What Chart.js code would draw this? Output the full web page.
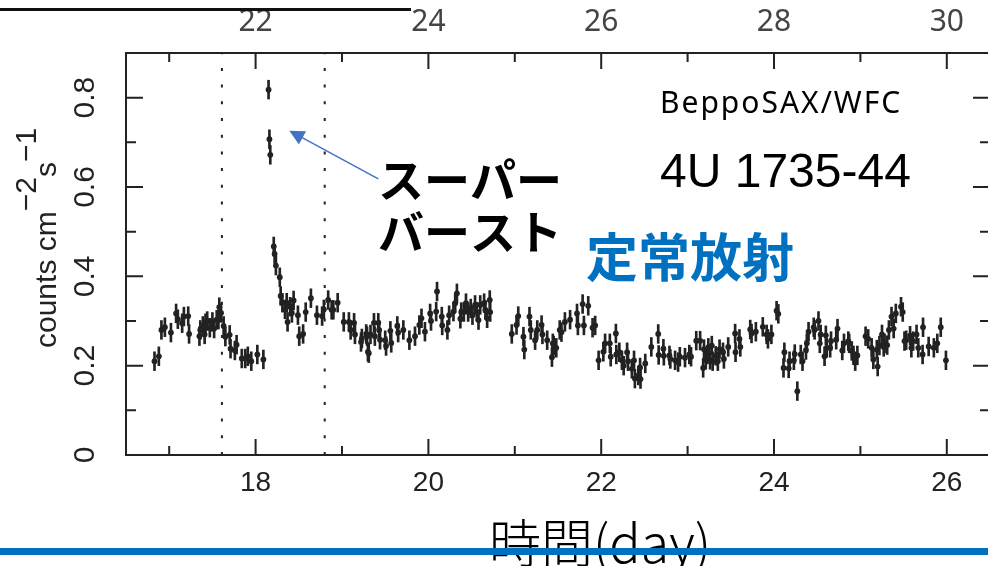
<!DOCTYPE html>
<html>
<head>
<meta charset="utf-8">
<script src="https://cdn.jsdelivr.net/npm/chart.js@4.4.1/dist/chart.umd.min.js"></script>
<style>
  html, body { margin: 0; padding: 0; background: #fff; overflow: hidden; }
  #wrap { position: relative; width: 1000px; height: 566px; }
</style>
</head>
<body>
<div id="wrap"><canvas id="lc" width="1000" height="566"></canvas></div>
<script>
// light curve (day, counts cm^-2 s^-1)
const days = [
  16.83, 16.88, 16.91, 16.95, 17.02, 17.08, 17.10, 17.15, 17.17, 17.22, 17.23,
  17.35, 17.36, 17.39, 17.41, 17.42, 17.44, 17.47, 17.50, 17.52, 17.55, 17.57,
  17.58, 17.60, 17.63, 17.65, 17.70, 17.71, 17.76, 17.78, 17.84, 17.88, 17.91,
  17.95, 18.02, 18.09,
  18.15, 18.16, 18.17, 18.21, 18.22, 18.235, 18.28, 18.29, 18.31, 18.34, 18.36,
  18.37, 18.40, 18.42, 18.44, 18.49, 18.505, 18.55, 18.58, 18.64, 18.71, 18.77,
  18.79, 18.84, 18.88, 18.90, 18.95, 19.02, 19.08, 19.10, 19.14, 19.15, 19.22,
  19.23, 19.28, 19.29, 19.30, 19.31, 19.33, 19.37, 19.38, 19.42, 19.43, 19.44,
  19.50, 19.51, 19.56, 19.57, 19.64, 19.65, 19.71, 19.78, 19.845, 19.895, 19.92,
  19.96, 20.02, 20.03, 20.09, 20.10, 20.155, 20.16, 20.22, 20.24, 20.29, 20.31,
  20.33, 20.37, 20.38, 20.41, 20.435, 20.46, 20.49, 20.51, 20.54, 20.56, 20.58,
  20.60, 20.645, 20.66, 20.68, 20.71, 20.715,
  20.965, 21.02, 21.04, 21.10, 21.11, 21.17, 21.185, 21.235, 21.26, 21.31, 21.32,
  21.375, 21.43, 21.44, 21.45, 21.48, 21.52, 21.54, 21.58, 21.64, 21.72, 21.73,
  21.785, 21.80, 21.85, 21.90, 21.93, 21.97, 22.025, 22.045, 22.10, 22.11, 22.17,
  22.175, 22.21, 22.24, 22.26, 22.30, 22.31, 22.355, 22.38, 22.39, 22.43, 22.45,
  22.455, 22.51, 22.58, 22.66, 22.665, 22.72, 22.725, 22.79, 22.80, 22.855, 22.89,
  22.91, 22.97, 23.02, 23.04, 23.10, 23.145, 23.18, 23.19, 23.21, 23.23, 23.24,
  23.26, 23.28, 23.29, 23.325, 23.35, 23.37, 23.41, 23.42, 23.47, 23.55, 23.555,
  23.60, 23.61, 23.725, 23.74, 23.79, 23.87, 23.915, 23.93, 23.97, 24.03, 24.05,
  24.11, 24.12, 24.17, 24.18, 24.23, 24.24, 24.27, 24.31, 24.33, 24.37, 24.38,
  24.40, 24.46, 24.47, 24.515, 24.53, 24.54, 24.585, 24.60, 24.61, 24.65, 24.66,
  24.72, 24.735, 24.79, 24.81, 24.86, 24.87, 24.90, 24.92, 24.94, 24.965, 25.06,
  25.09, 25.13, 25.15, 25.19, 25.20, 25.22, 25.25, 25.27, 25.28, 25.31, 25.33,
  25.36, 25.385, 25.41, 25.47, 25.49, 25.51, 25.53, 25.575, 25.59, 25.61, 25.65,
  25.67, 25.72, 25.725, 25.79, 25.85, 25.89, 25.93, 25.99
];
const flux = [
  0.210, 0.221, 0.280, 0.286, 0.274, 0.317, 0.304, 0.295, 0.310, 0.311, 0.271,
  0.266, 0.280, 0.289, 0.270, 0.295, 0.300, 0.285, 0.298, 0.283, 0.303, 0.303,
  0.331, 0.318, 0.289, 0.265, 0.269, 0.238, 0.234, 0.247, 0.216, 0.216, 0.221,
  0.210, 0.225, 0.214,
  0.818, 0.707, 0.672, 0.467, 0.450, 0.424, 0.398, 0.356, 0.341, 0.326, 0.341,
  0.298, 0.332, 0.318, 0.346, 0.313, 0.266, 0.271, 0.320, 0.351, 0.313, 0.311,
  0.326, 0.347, 0.325, 0.325, 0.341, 0.298, 0.298, 0.280, 0.296, 0.270, 0.253,
  0.261, 0.271, 0.266, 0.231, 0.228, 0.270, 0.296, 0.266, 0.296, 0.280, 0.258,
  0.257, 0.244, 0.278, 0.251, 0.289, 0.274, 0.280, 0.257, 0.266, 0.291, 0.306,
  0.276, 0.317, 0.300, 0.321, 0.366, 0.310, 0.290, 0.280, 0.313, 0.321, 0.340,
  0.362, 0.305, 0.320, 0.320, 0.340, 0.320, 0.328, 0.313, 0.336, 0.321, 0.302,
  0.336, 0.340, 0.325, 0.306, 0.347, 0.320,
  0.271, 0.291, 0.311, 0.265, 0.236, 0.310, 0.280, 0.257, 0.280, 0.291, 0.270,
  0.257, 0.219, 0.250, 0.245, 0.240, 0.280, 0.275, 0.298, 0.303, 0.317, 0.290,
  0.338, 0.290, 0.334, 0.285, 0.290, 0.212, 0.231, 0.250, 0.250, 0.220, 0.272,
  0.225, 0.230, 0.212, 0.200, 0.230, 0.210, 0.193, 0.212, 0.171, 0.178, 0.196,
  0.170, 0.205, 0.242, 0.271, 0.224, 0.238, 0.222, 0.223, 0.215, 0.212, 0.208,
  0.220, 0.218, 0.225, 0.220, 0.256, 0.256, 0.195, 0.237, 0.213, 0.225, 0.240,
  0.213, 0.245, 0.210, 0.222, 0.210, 0.237, 0.230, 0.215, 0.242, 0.272, 0.230,
  0.260, 0.242, 0.281, 0.272, 0.276, 0.287, 0.270, 0.260, 0.270, 0.323, 0.316,
  0.195, 0.230, 0.194, 0.210, 0.212, 0.226, 0.143, 0.225, 0.210, 0.235, 0.250,
  0.276, 0.286, 0.280, 0.300, 0.250, 0.270, 0.221, 0.268, 0.240, 0.240, 0.255,
  0.258, 0.283, 0.234, 0.250, 0.255, 0.250, 0.233, 0.223, 0.210, 0.223, 0.266,
  0.260, 0.240, 0.214, 0.236, 0.198, 0.245, 0.270, 0.242, 0.250, 0.246, 0.280,
  0.310, 0.283, 0.317, 0.332, 0.320, 0.255, 0.257, 0.267, 0.240, 0.255, 0.270,
  0.240, 0.225, 0.286, 0.243, 0.240, 0.250, 0.286, 0.212
];
const errHalf = 0.021;

const bottomTicks = [18, 20, 22, 24, 26];
const bottomMinor = [17, 19, 21, 23, 25];
const topTicks = [22, 24, 26, 28, 30];
const yTicks = [0, 0.2, 0.4, 0.6, 0.8];
const yMinor = [0.1, 0.3, 0.5, 0.7];
const markerDays = [17.61, 18.80];   // dotted lines

const ink = '#222';
const sansFont = "'Liberation Sans', Arial, sans-serif";
const jpFont = "'Noto Sans CJK JP', sans-serif";

// frame, inward ticks, annotations
const decorations = {
  id: 'decorations',
  afterDatasetsDraw(chart) {
    const {ctx, chartArea: a, scales: {x, y}} = chart;
    ctx.save();
    ctx.strokeStyle = ink;
    ctx.lineWidth = 2;
    ctx.strokeRect(a.left, a.top, a.right - a.left, a.bottom - a.top);

    ctx.beginPath();
    const xTick = (v, len) => {
      const px = x.getPixelForValue(v);
      ctx.moveTo(px, a.bottom); ctx.lineTo(px, a.bottom - len);
      ctx.moveTo(px, a.top); ctx.lineTo(px, a.top + len);
    };
    const yTick = (v, len) => {
      const py = y.getPixelForValue(v);
      ctx.moveTo(a.left, py); ctx.lineTo(a.left + len, py);
      ctx.moveTo(a.right, py); ctx.lineTo(a.right - len, py);
    };
    bottomTicks.forEach(v => xTick(v, 16));
    bottomMinor.forEach(v => xTick(v, 9));
    yTicks.forEach(v => yTick(v, 17));
    yMinor.forEach(v => yTick(v, 10));
    ctx.stroke();
    ctx.restore();
  },
  afterDraw(chart) {
    const {ctx, scales: {x, y}} = chart;
    ctx.save();

    // y axis title with superscripts
    ctx.translate(56, 348);
    ctx.rotate(-Math.PI / 2);
    ctx.fillStyle = ink;
    ctx.font = `30px ${sansFont}`;
    ctx.textBaseline = 'alphabetic';
    ctx.textAlign = 'left';
    let cx = 0;
    const piece = (t, dy) => { ctx.fillText(t, cx, dy); cx += ctx.measureText(t).width; };
    piece('counts cm', 0);
    piece('\u22122', -20);
    piece('s', 0);
    piece('\u22121', -20);
    ctx.restore();

    ctx.save();
    ctx.fillStyle = '#000';
    ctx.textBaseline = 'alphabetic';
    ctx.textAlign = 'left';
    ctx.font = `30px 'Noto Sans', sans-serif`;
    ctx.letterSpacing = '2px';
    ctx.fillText('BeppoSAX/WFC', 660, 113);
    ctx.letterSpacing = '0px';
    ctx.font = `48px ${sansFont}`;
    ctx.fillText('4U 1735-44', 660, 187);

    ctx.textBaseline = 'middle';
    ctx.font = `bold 46px ${jpFont}`;
    ctx.fillText('スーパー', 378, 180);
    ctx.fillText('バースト', 378, 232);
    ctx.fillStyle = '#0070C0';
    ctx.font = `bold 52px ${jpFont}`;
    ctx.fillText('定常放射', 586, 257);

    // arrow pointing at the burst peak
    const tail = [x.getPixelForValue(19.42), y.getPixelForValue(0.618)];
    const tip = [x.getPixelForValue(18.39), y.getPixelForValue(0.726)];
    const ang = Math.atan2(tip[1] - tail[1], tip[0] - tail[0]);
    ctx.strokeStyle = '#4472C4';
    ctx.fillStyle = '#4472C4';
    ctx.lineWidth = 1.5;
    ctx.beginPath();
    ctx.moveTo(tail[0], tail[1]);
    ctx.lineTo(tip[0] - 12 * Math.cos(ang), tip[1] - 12 * Math.sin(ang));
    ctx.stroke();
    ctx.beginPath();
    ctx.moveTo(tip[0], tip[1]);
    ctx.lineTo(tip[0] - 15 * Math.cos(ang) + 7.5 * Math.sin(ang), tip[1] - 15 * Math.sin(ang) - 7.5 * Math.cos(ang));
    ctx.lineTo(tip[0] - 15 * Math.cos(ang) - 7.5 * Math.sin(ang), tip[1] - 15 * Math.sin(ang) + 7.5 * Math.cos(ang));
    ctx.closePath();
    ctx.fill();

    // x axis title
    ctx.fillStyle = '#000';
    ctx.textAlign = 'center';
    ctx.textBaseline = 'middle';
    ctx.font = `300 52px ${jpFont}`;
    ctx.fillText('時間(day)', 600, 543);

    // slide furniture: underline at top, blue rule at bottom
    ctx.fillStyle = '#111';
    ctx.fillRect(0, 8, 411, 3);
    ctx.fillStyle = '#0070C0';
    ctx.fillRect(0, 548, 1000, 7);
    ctx.restore();
  }
};

const points = days.map((d, i) => ({x: d, y: flux[i]}));
const errorBars = days.map((d, i) => ({x: d, y: [flux[i] - errHalf, flux[i] + errHalf]}));
const markerSets = markerDays.map(d => ({
  type: 'line',
  data: [{x: d, y: 0}, {x: d, y: 0.9}],
  borderColor: ink,
  borderWidth: 2,
  borderDash: [3, 13.7],
  pointRadius: 0,
  fill: false
}));

new Chart(document.getElementById('lc'), {
  type: 'scatter',
  data: {
    datasets: [
      ...markerSets,
      {
        type: 'bar',
        data: errorBars,
        backgroundColor: ink,
        barThickness: 2,
        grouped: false
      },
      {
        type: 'scatter',
        data: points,
        backgroundColor: ink,
        borderWidth: 0,
        pointRadius: 2.9
      }
    ]
  },
  options: {
    responsive: false,
    animation: false,
    devicePixelRatio: 1,
    layout: {padding: {left: 0, top: 0, right: 10, bottom: 0}},
    plugins: {legend: {display: false}, tooltip: {enabled: false}},
    scales: {
      x: {
        type: 'linear',
        position: 'bottom',
        min: 16.5,
        max: 26.5,
        offset: false,
        grid: {display: false, drawTicks: false, offset: false},
        border: {display: false},
        afterBuildTicks: s => { s.ticks = bottomTicks.map(v => ({value: v})); },
        afterFit: s => { s.height = 111; },
        ticks: {
          autoSkip: false, maxRotation: 0, minRotation: 0,
          padding: 11,
          color: ink,
          font: {family: sansFont, size: 28}
        }
      },
      x2: {
        type: 'linear',
        axis: 'x',
        position: 'top',
        min: 20.5,
        max: 30.5,
        grid: {display: false, drawTicks: false},
        border: {display: false},
        afterBuildTicks: s => { s.ticks = topTicks.map(v => ({value: v})); },
        afterFit: s => { s.height = 53; },
        ticks: {
          autoSkip: false, maxRotation: 0, minRotation: 0,
          padding: 13,
          color: '#444',
          font: {family: "'Noto Sans', sans-serif", size: 30}
        }
      },
      y: {
        type: 'linear',
        position: 'left',
        min: 0,
        max: 0.9,
        grid: {display: false, drawTicks: false},
        border: {display: false},
        afterBuildTicks: s => { s.ticks = yTicks.map(v => ({value: v})); },
        afterFit: s => { s.width = 126; },
        ticks: {
          autoSkip: false,
          minRotation: 90, maxRotation: 90,
          crossAlign: 'center',
          padding: 19,
          color: ink,
          font: {family: sansFont, size: 30},
          callback: v => String(v)
        }
      }
    }
  },
  plugins: [decorations]
});
</script>
</body>
</html>
